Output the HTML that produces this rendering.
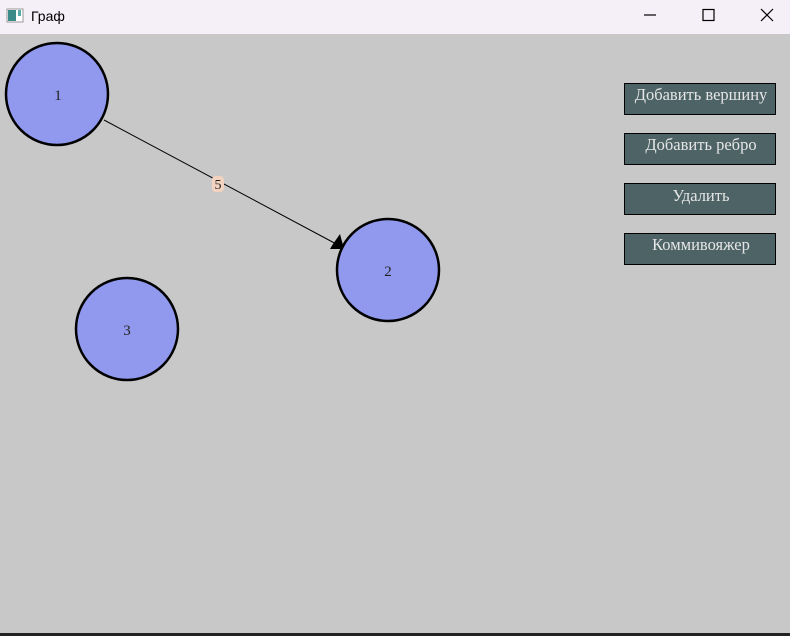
<!DOCTYPE html>
<html><head><meta charset="utf-8"><style>
html,body{margin:0;padding:0;width:790px;height:636px;overflow:hidden;background:#c8c8c8;}
</style></head><body>
<svg width="790" height="636" xmlns="http://www.w3.org/2000/svg" style="display:block">
<rect x="0" y="0" width="790" height="34" fill="#f5eff7"/>
<rect x="0" y="34" width="790" height="602" fill="#c8c8c8"/>
<rect x="0" y="633" width="790" height="3" fill="#222"/>
<rect x="7" y="9" width="16" height="13" fill="#fff" stroke="#999" stroke-width="1"/>
<rect x="8" y="10" width="8" height="11" fill="#3a8a8a"/>
<rect x="18" y="10" width="3" height="6" fill="#5aa"/>
<text x="31" y="21" font-family="Liberation Sans, sans-serif" font-size="14" fill="#000">Граф</text>
<line x1="644" y1="15" x2="656" y2="15" stroke="#000" stroke-width="1.2"/>
<rect x="703" y="9.5" width="11" height="11" fill="none" stroke="#000" stroke-width="1.2"/>
<line x1="761" y1="9" x2="773" y2="21" stroke="#000" stroke-width="1.2"/>
<line x1="773" y1="9" x2="761" y2="21" stroke="#000" stroke-width="1.2"/>

<line x1="104" y1="120" x2="340" y2="246" stroke="#000" stroke-width="1"/>
<polygon points="344,249 330,249 333,244 340,234" fill="#000"/>
<rect x="212" y="176" width="12" height="16" rx="4" fill="#f3d3c0"/>
<text x="218" y="189" text-anchor="middle" font-family="Liberation Serif, serif" font-size="14" fill="#222">5</text>

<g stroke="#000" stroke-width="2.5" fill="#9199ee">
<circle cx="57" cy="94" r="51"/>
<circle cx="388" cy="270" r="51"/>
<circle cx="127" cy="329" r="51"/>
</g>
<g font-family="Liberation Serif, serif" font-size="15" fill="#222" text-anchor="middle">
<text x="58" y="100">1</text>
<text x="388" y="276">2</text>
<text x="127" y="335">3</text>
</g>

<g fill="#4d6366" stroke="#000" stroke-width="1">
<rect x="624.5" y="83.5" width="151" height="31"/>
<rect x="624.5" y="133.5" width="151" height="31"/>
<rect x="624.5" y="183.5" width="151" height="31"/>
<rect x="624.5" y="233.5" width="151" height="31"/>
</g>
<g font-family="Liberation Serif, serif" font-size="16.5" fill="#e6e6e6" text-anchor="middle">
<text x="701" y="100">Добавить вершину</text>
<text x="701" y="150">Добавить ребро</text>
<text x="701" y="201">Удалить</text>
<text x="701" y="250">Коммивояжер</text>
</g>
</svg>
</body></html>
